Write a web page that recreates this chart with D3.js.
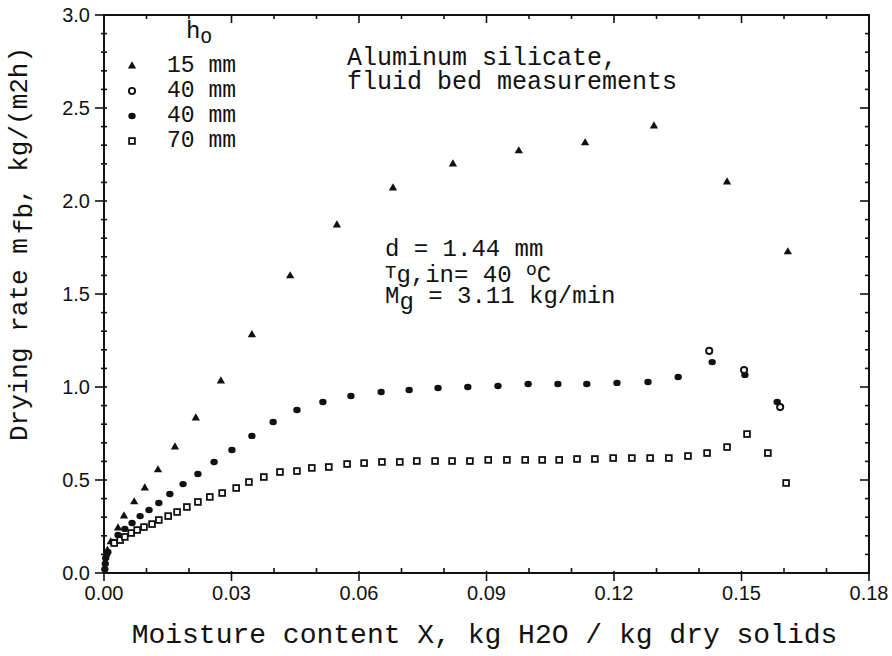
<!DOCTYPE html>
<html>
<head>
<meta charset="utf-8">
<script src="https://cdn.jsdelivr.net/npm/d3@7"></script>
<style>
  body { margin: 0; background: #fff; }
  svg { display: block; }
  .mono { font-family: "Liberation Mono", "Courier New", monospace; fill: #111; }
  .tick-label { font-family: "Liberation Sans", Arial, sans-serif; font-size: 20px; fill: #111; }
</style>
</head>
<body>
<div id="chart"></div>
<script>
// 15 mm bed height (triangles)
var triX = [0.0008, 0.0016, 0.0033, 0.0047, 0.0071, 0.0096, 0.0127, 0.0167, 0.0216, 0.0275,
            0.0348, 0.0438, 0.0548, 0.0680, 0.0821, 0.0976, 0.1132, 0.1294, 0.1466, 0.1609];
var triY = [0.12, 0.167, 0.242, 0.306, 0.382, 0.457, 0.554, 0.677, 0.833, 1.032,
            1.280, 1.597, 1.871, 2.070, 2.199, 2.269, 2.312, 2.403, 2.102, 1.726];

// 40 mm, filled circles
var dotX = [0.0002, 0.0003, 0.0004, 0.0006, 0.0009, 0.0021, 0.0033, 0.0049, 0.0066, 0.0085,
            0.0106, 0.0129, 0.0155, 0.0186, 0.0221, 0.0259, 0.0301, 0.0348, 0.0398, 0.0454,
            0.0515, 0.0581, 0.0652, 0.0718, 0.0786, 0.0856, 0.0927, 0.0998, 0.1068, 0.1136,
            0.1207, 0.1280, 0.1351, 0.1431, 0.1508, 0.1584];
var dotY = [0.02, 0.05, 0.08, 0.10, 0.113, 0.167, 0.204, 0.237, 0.269, 0.306,
            0.339, 0.376, 0.425, 0.478, 0.532, 0.597, 0.661, 0.737, 0.812, 0.876,
            0.919, 0.952, 0.973, 0.984, 0.995, 1.000, 1.005, 1.016, 1.016, 1.016,
            1.022, 1.027, 1.054, 1.134, 1.065, 0.919];

// 40 mm, open circles
var ringX = [0.1424, 0.1506, 0.1591];
var ringY = [1.194, 1.091, 0.892];

// 70 mm, open squares
var sqX = [0.0024, 0.0038, 0.0049, 0.0064, 0.0078, 0.0094, 0.0113, 0.0129, 0.0151, 0.0172,
           0.0195, 0.0221, 0.0249, 0.0278, 0.0311, 0.0341, 0.0376, 0.0414, 0.0454, 0.0489,
           0.0529, 0.0572, 0.0612, 0.0654, 0.0696, 0.0736, 0.0779, 0.0819, 0.0861, 0.0904,
           0.0948, 0.0991, 0.1031, 0.1071, 0.1113, 0.1155, 0.1198, 0.1242, 0.1285, 0.1329,
           0.1374, 0.1419, 0.1466, 0.1513, 0.1562, 0.1605];
var sqY = [0.161, 0.177, 0.194, 0.215, 0.231, 0.247, 0.263, 0.285, 0.306, 0.328,
           0.355, 0.382, 0.409, 0.430, 0.457, 0.489, 0.516, 0.543, 0.548, 0.565,
           0.570, 0.586, 0.591, 0.597, 0.597, 0.602, 0.602, 0.602, 0.602, 0.608,
           0.608, 0.608, 0.608, 0.608, 0.613, 0.613, 0.618, 0.618, 0.618, 0.618,
           0.629, 0.645, 0.677, 0.747, 0.645, 0.484];

var xTicks = [0, 0.03, 0.06, 0.09, 0.12, 0.15, 0.18];
var yTicks = [0, 0.5, 1.0, 1.5, 2.0, 2.5, 3.0];
var legendLabels = ["15 mm", "40 mm", "40 mm", "70 mm"];

var width = 892, height = 656;
var margin = {top: 15, right: 23, bottom: 83, left: 104};

var svg = d3.select("#chart").append("svg")
    .attr("width", width)
    .attr("height", height);

var x = d3.scaleLinear().domain([0, 0.18]).range([margin.left, width - margin.right]),
    y = d3.scaleLinear().domain([0, 3]).range([height - margin.bottom, margin.top]);

var x0 = x.range()[0], x1 = x.range()[1],
    y0 = y.range()[0], y1 = y.range()[1];

// frame
svg.append("rect")
    .attr("x", x0).attr("y", y1)
    .attr("width", x1 - x0).attr("height", y0 - y1)
    .attr("fill", "none").attr("stroke", "#111").attr("stroke-width", 2);

var ticks = svg.append("g").attr("stroke", "#111").attr("stroke-width", 1.6);

// x ticks every 0.01, majors every 0.03
var xMinor = d3.range(0, 19).map(function(i) { return i / 100; });
xMinor.forEach(function(v, i) {
  var major = i % 3 === 0;
  // bottom
  ticks.append("line")
      .attr("x1", x(v)).attr("x2", x(v))
      .attr("y1", major ? y0 + 8 : y0).attr("y2", major ? y0 - 2 : y0 - 5);
  // top
  ticks.append("line")
      .attr("x1", x(v)).attr("x2", x(v))
      .attr("y1", y1).attr("y2", y1 + (major ? 8 : 4));
});

// y ticks every 0.1, majors every 0.5
d3.range(0, 31).forEach(function(i) {
  var v = i / 10, major = i % 5 === 0;
  ticks.append("line")
      .attr("x1", major ? x0 - 9 : x0 - 3).attr("x2", x0 + 3)
      .attr("y1", y(v)).attr("y2", y(v));
  ticks.append("line")
      .attr("x1", x1).attr("x2", x1 - (major ? 9 : 4))
      .attr("y1", y(v)).attr("y2", y(v));
});

// tick labels
svg.selectAll(".xl").data(xTicks).enter().append("text")
    .attr("class", "tick-label")
    .attr("x", function(d) { return x(d); })
    .attr("y", y0 + 27)
    .attr("text-anchor", "middle")
    .text(function(d) { return d3.format(".2f")(d); });

svg.selectAll(".yl").data(yTicks).enter().append("text")
    .attr("class", "tick-label")
    .attr("x", x0 - 14)
    .attr("y", function(d) { return y(d) + 7; })
    .attr("text-anchor", "end")
    .text(function(d) { return d3.format(".1f")(d); });

// axis titles
svg.append("text")
    .attr("class", "mono")
    .attr("x", (x0 + x1) / 2 - 2)
    .attr("y", 643)
    .attr("text-anchor", "middle")
    .style("font-size", "28px")
    .text("Moisture content X, kg H2O / kg dry solids");

var ylab = svg.append("text")
    .attr("class", "mono")
    .attr("transform", "translate(27,244) rotate(-90)")
    .attr("text-anchor", "middle")
    .style("font-size", "26px");
ylab.append("tspan").text("Drying rate m");
ylab.append("tspan").attr("dy", 5).attr("dx", 4).text("fb");
ylab.append("tspan").attr("dy", -5).text(", kg/(m2h)");

// marker shapes
var triangle = d3.symbol().type(d3.symbolTriangle).size(30);

var plot = svg.append("g");

plot.selectAll(".tri").data(triX).enter().append("path")
    .attr("d", triangle)
    .attr("transform", function(d, i) { return "translate(" + x(d) + "," + y(triY[i]) + ")"; })
    .attr("fill", "#111");

plot.selectAll(".dot").data(dotX).enter().append("ellipse")
    .attr("cx", function(d) { return x(d); })
    .attr("cy", function(d, i) { return y(dotY[i]); })
    .attr("rx", 3.7).attr("ry", 3.2)
    .attr("fill", "#111");

plot.selectAll(".ring").data(ringX).enter().append("circle")
    .attr("cx", function(d) { return x(d); })
    .attr("cy", function(d, i) { return y(ringY[i]); })
    .attr("r", 3.1)
    .attr("fill", "#fff").attr("stroke", "#111").attr("stroke-width", 1.9);

plot.selectAll(".sq").data(sqX).enter().append("rect")
    .attr("x", function(d) { return x(d) - 2.9; })
    .attr("y", function(d, i) { return y(sqY[i]) - 2.9; })
    .attr("width", 5.8).attr("height", 5.8)
    .attr("fill", "#fff").attr("stroke", "#111").attr("stroke-width", 1.8);

// legend
var legend = svg.append("g");
var hLab = legend.append("text").attr("class", "mono")
    .attr("x", 186).attr("y", 38).style("font-size", "24px");
hLab.append("tspan").text("h");
hLab.append("tspan").attr("dy", 5).style("font-size", "19px").text("O");

legendLabels.forEach(function(t, i) {
  var ly = 66 + i * 25;
  if (i === 0) {
    legend.append("path").attr("d", triangle)
        .attr("transform", "translate(132," + ly + ")").attr("fill", "#111");
  } else if (i === 1) {
    legend.append("circle").attr("cx", 132).attr("cy", ly).attr("r", 3.1)
        .attr("fill", "#fff").attr("stroke", "#111").attr("stroke-width", 1.9);
  } else if (i === 2) {
    legend.append("ellipse").attr("cx", 132).attr("cy", ly).attr("rx", 3.7).attr("ry", 3.2)
        .attr("fill", "#111");
  } else {
    legend.append("rect").attr("x", 129.1).attr("y", ly - 2.9).attr("width", 5.8).attr("height", 5.8)
        .attr("fill", "#fff").attr("stroke", "#111").attr("stroke-width", 1.8);
  }
  legend.append("text").attr("class", "mono")
      .attr("x", 167).attr("y", ly + 6)
      .style("font-size", "23px")
      .text(t);
});

// material note
svg.append("text").attr("class", "mono")
    .attr("x", 347).attr("y", 65).style("font-size", "25px")
    .text("Aluminum silicate,");
svg.append("text").attr("class", "mono")
    .attr("x", 347).attr("y", 89).style("font-size", "25px")
    .text("fluid bed measurements");

// operating conditions
svg.append("text").attr("class", "mono")
    .attr("x", 385).attr("y", 256).style("font-size", "24px")
    .text("d  = 1.44 mm");

var tLine = svg.append("text").attr("class", "mono")
    .attr("x", 385).attr("y", 282).style("font-size", "24px");
tLine.append("tspan").attr("dy", -4).style("font-size", "19px").text("T");
tLine.append("tspan").attr("dy", 4).text("g,in= 40 ");
tLine.append("tspan").attr("dy", -7).style("font-size", "18px").text("o");
tLine.append("tspan").attr("dy", 7).text("C");

var mLine = svg.append("text").attr("class", "mono")
    .attr("x", 385).attr("y", 303).style("font-size", "24px");
mLine.append("tspan").text("M");
mLine.append("tspan").attr("dy", 6).text("g");
mLine.append("tspan").attr("dy", -6).text(" = 3.11 kg/min");
</script>
</body>
</html>
